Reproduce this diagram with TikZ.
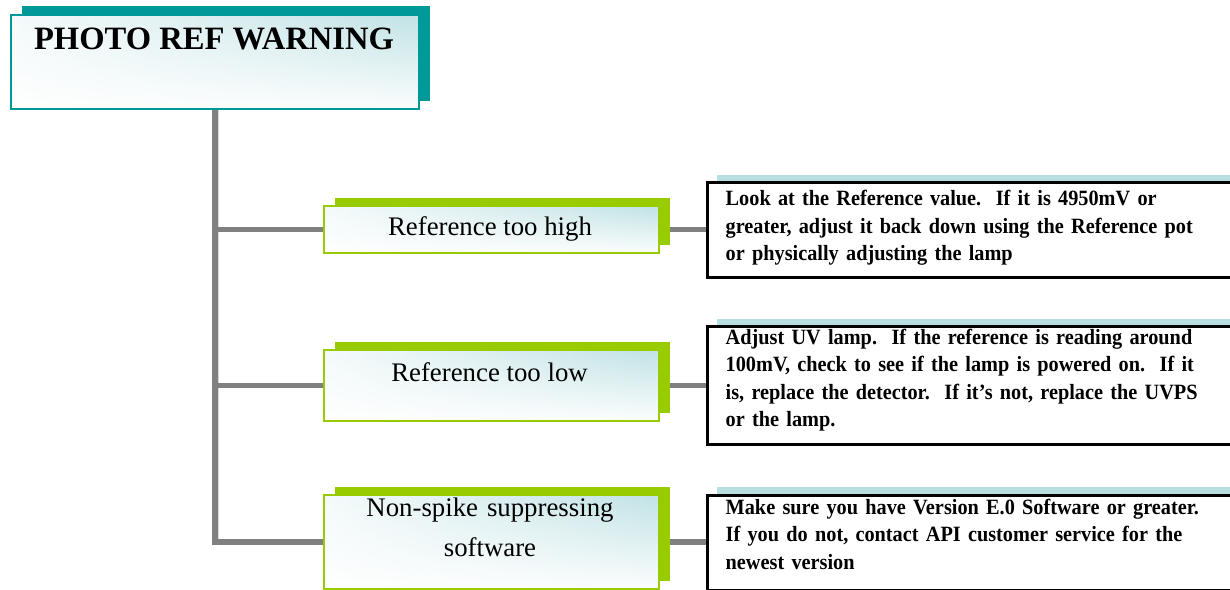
\documentclass[tikz,border=0pt]{standalone}
\usepackage{fontspec}
\setmainfont{Liberation Serif}
\newfontfamily\notefont[FakeStretch=0.93]{Liberation Serif}
\usetikzlibrary{shadows,fadings,backgrounds}

\definecolor{tealframe}{HTML}{009999}
\definecolor{limeframe}{HTML}{99CC00}
\definecolor{glow}{HTML}{BCE0E3}
\definecolor{noteshadow}{HTML}{B7DFE1}
\definecolor{trunkgray}{HTML}{808080}
\definecolor{trunklight}{HTML}{D6D6D6}

% soft cyan glow that brightens toward the top right of each box
\pgfdeclarehorizontalshading{boxglow}{100bp}{color(0bp)=(white); color(15bp)=(white); color(80bp)=(glow); color(100bp)=(glow!80!white)}
\tikzfading[name=glowfade, top color=transparent!100, middle color=transparent!75, bottom color=transparent!5]

\tikzset{
  glowfill/.style={fill=white, path picture={
      \shade[shading=boxglow] (path picture bounding box.south west) rectangle (path picture bounding box.north east);
      \fill[white, path fading=glowfade] (path picture bounding box.south west) rectangle (path picture bounding box.north east);}},
  titlebox/.style={glowfill, draw=tealframe, line width=2pt, inner sep=0pt, anchor=north west,
      general shadow={shadow xshift=11pt, shadow yshift=8.5pt, fill=tealframe}},
  stepbox/.style={glowfill, draw=limeframe, line width=2pt, inner sep=0pt, anchor=north west,
      minimum width=334.9pt, general shadow={shadow xshift=11pt, shadow yshift=8pt, fill=limeframe}},
  notebox/.style={fill=white, draw=black, line width=2.6pt, inner sep=0pt, anchor=north west,
      minimum width=540pt, general shadow={shadow xshift=9pt, shadow yshift=8pt, fill=noteshadow}},
  titletext/.style={font=\fontsize{32.6}{38}\selectfont\bfseries, inner sep=0pt, anchor=base},
  steptext/.style={font=\fontsize{26.8}{40}\selectfont, inner sep=0pt, anchor=base},
  notetext/.style={font=\notefont\fontsize{21.8}{27.5}\selectfont\bfseries, inner sep=0pt, anchor=base west,
      text width=500pt, align=left},
  trunk/.style={draw=trunkgray, line width=5.7pt, line join=miter},
  trunkedge/.style={draw=trunklight, line width=1.2pt}
}

\begin{document}
\begin{tikzpicture}[x=1pt, y=-1pt]
  \useasboundingbox (0,0) rectangle (1230,589);
  \clip (0,0) rectangle (1230,589);

  % heading
  \node[titlebox, minimum width=407.5pt, minimum height=94.6pt] (title) at (10.2,13.7) {};
  \node[titletext] (titlelabel) at (214,49.3) {PHOTO REF WARNING};

  % causes
  \node[stepbox, minimum height=47pt] (high) at (322.8,205) {};
  \node[stepbox, minimum height=70.4pt] (low) at (322.8,349.3) {};
  \node[stepbox, minimum height=94pt] (spike) at (322.8,493.7) {};
  \node[steptext] (highlabel) at (490,235.7) {Reference too high};
  \node[steptext] (lowlabel) at (489.5,381.7) {Reference too low};
  \node[steptext, text width=320pt, align=center] (spikelabel) at (490,516) {Non-spike suppressing\\software};

  % remedies
  \node[notebox, minimum height=94.9pt] (noteHigh) at (706.3,181.3) {};
  \node[notebox, minimum height=117.7pt] (noteLow) at (706.3,325.3) {};
  \node[notebox, minimum height=94.8pt] (noteSpike) at (706.3,494) {};
  \node[notetext] (noteHighText) at (725.5,205.5)
    {Look at the Reference value.\ \ If it is 4950mV or\\greater, adjust it back down using the Reference pot\\or physically adjusting the lamp};
  \node[notetext] (noteLowText) at (725.5,344.3)
    {Adjust UV lamp.\ \ If the reference is reading around\\100mV, check to see if the lamp is powered on.\ \ If it\\is, replace the detector.\ \ If it’s not, replace the UVPS\\or the lamp.};
  \node[notetext] (noteSpikeText) at (725.5,514.3)
    {Make sure you have Version E.0 Software or greater.\\If you do not, contact API customer service for the\\newest version};

  % connectors behind the boxes
  \begin{pgfonlayer}{background}
    \draw[trunkedge] ([xshift=3.4pt]title.south) -- ([xshift=3.4pt, yshift=2.9pt]title.south |- spike.west);
    \draw[trunk] (title.south) |- (spike.west);
    \draw[trunk] (title.south |- high.west) -- (high.west);
    \draw[trunk] (title.south |- low.west) -- (low.west);
    \draw[trunk] (high.east) -- (high.east -| noteHigh.west);
    \draw[trunk] (low.east) -- (low.east -| noteLow.west);
    \draw[trunk] (spike.east) -- (spike.east -| noteSpike.west);
  \end{pgfonlayer}
\end{tikzpicture}
\end{document}
